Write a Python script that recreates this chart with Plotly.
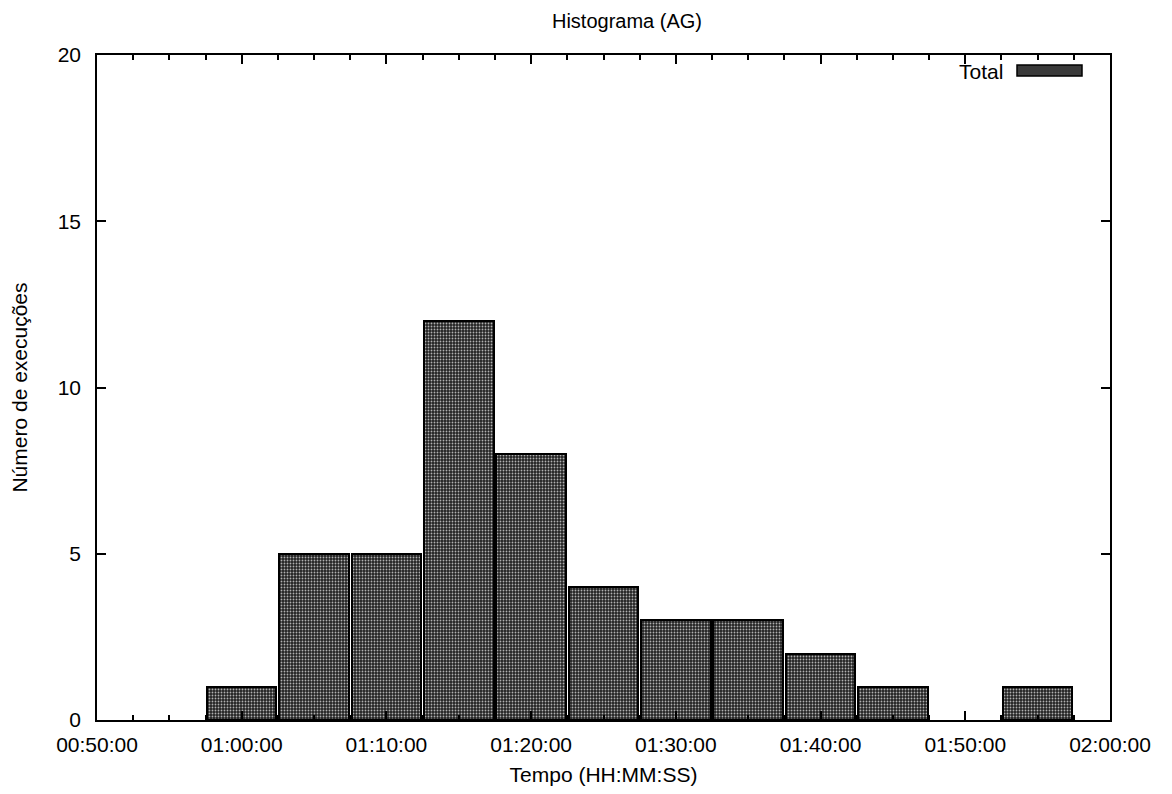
import plotly.graph_objects as go

# Data
bin_centers = ["01:00:00", "01:05:00", "01:10:00", "01:15:00", "01:20:00", "01:25:00",
               "01:30:00", "01:35:00", "01:40:00", "01:45:00", "01:55:00"]
counts = [1, 5, 5, 12, 8, 4, 3, 3, 2, 1, 1]
x_range = ["00:50:00", "02:00:00"]
x_ticks = ["00:50:00", "01:00:00", "01:10:00", "01:20:00", "01:30:00", "01:40:00", "01:50:00", "02:00:00"]
y_ticks = [0, 5, 10, 15, 20]

BASE = "1970-01-01 "
FONT = "Liberation Sans, Arial, sans-serif"
FS = 21

# page has an 8px body margin; figure sized to fit inside the window
W, H = 1164, 786
OFF = 8
L, R, T, B = 97 - OFF, W - (1110 - OFF), 55 - OFF, H - (720 - OFF)
PW, PH = W - L - R, H - T - B

fig = go.Figure()
fig.add_trace(go.Bar(
    x=[BASE + t for t in bin_centers],
    y=counts,
    width=[288000] * len(counts),
    name="Total",
    marker=dict(
        color="#222222",
        line=dict(color="black", width=2),
        pattern=dict(shape=".", fgcolor="#b0b0b0", bgcolor="#222222", size=3, solidity=0.3, fillmode="replace"),
    ),
    showlegend=False,
))

fig.update_layout(
    width=W, height=H,
    margin=dict(l=L, r=R, t=T, b=B, autoexpand=False),
    paper_bgcolor="white", plot_bgcolor="white",
    font=dict(family=FONT, size=FS, color="black"),
    title=dict(text="Histograma (AG)", x=(627 - OFF) / W, xanchor="center", y=1 - (21 - OFF) / H, yanchor="middle",
               font=dict(size=20)),
    bargap=0,
    xaxis=dict(
        type="date",
        range=[BASE + x_range[0], BASE + x_range[1]],
        tickvals=[BASE + t for t in x_ticks],
        ticktext=x_ticks,
        ticks="inside", ticklen=9, tickwidth=1.5, tickcolor="black",
        minor=dict(dtick=150000, ticks="inside", ticklen=5, tickwidth=1.5, tickcolor="black"),
        showline=True, linecolor="black", linewidth=1.5, mirror="ticks",
        showgrid=False, zeroline=False,
        ticklabelstandoff=5,
        title=dict(text="Tempo (HH:MM:SS)", standoff=12, font=dict(size=FS)),
        tickfont=dict(size=FS),
        automargin=False,
    ),
    yaxis=dict(
        range=[0, 20],
        tickvals=y_ticks,
        ticks="inside", ticklen=9, tickwidth=1.5, tickcolor="black",
        showline=True, linecolor="black", linewidth=1.5, mirror="ticks",
        showgrid=False, zeroline=False,
        ticklabelstandoff=10,
        title=dict(text="Número de execuções", standoff=24, font=dict(size=FS)),
        tickfont=dict(size=FS),
        automargin=False,
    ),
)

# gnuplot-style key: label then sample box
fig.add_annotation(xref="paper", yref="paper", x=(1005 - 97) / PW, y=1 - (71 - 55) / PH,
                   text="Total", showarrow=False, xanchor="right", yanchor="middle",
                   font=dict(size=FS, family=FONT))
fig.add_shape(type="rect", xref="paper", yref="paper",
              x0=(1017 - 97) / PW, x1=(1082 - 97) / PW,
              y0=1 - (76 - 55) / PH, y1=1 - (65 - 55) / PH,
              fillcolor="#3a3a3a", line=dict(color="black", width=1.5))

fig.write_html("out.html")
